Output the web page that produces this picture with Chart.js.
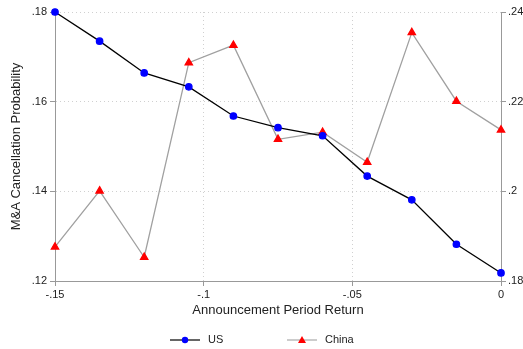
<!DOCTYPE html>
<html>
<head>
<meta charset="utf-8">
<script src="https://cdn.jsdelivr.net/npm/chart.js@4/dist/chart.umd.min.js"></script>
<style>
  html, body { margin: 0; padding: 0; background: #fff; }
  #wrap { width: 523px; height: 349px; }
</style>
</head>
<body>
<div id="wrap"><canvas id="chart" width="523" height="349"></canvas></div>
<script>
const returns = [-0.15, -0.135, -0.12, -0.105, -0.09, -0.075, -0.06, -0.045, -0.03, -0.015, 0];
const usProb = [0.180, 0.1735, 0.1664, 0.1633, 0.1568, 0.1542, 0.1524, 0.1434, 0.1381, 0.1282, 0.1218];
const chinaProb = [0.1876, 0.2001, 0.1853, 0.2287, 0.2326, 0.2116, 0.2132, 0.2065, 0.2354, 0.2201, 0.2137];
const seriesNames = ["US", "China"];

const font = "'Liberation Sans', Arial, sans-serif";
const txt = "#222";
const axisGray = "#999";

// strip the leading zero like Stata does: 0.16 -> .16, -0.1 -> -.1
function fmt(v) {
  let s = String(Math.round(v * 1000) / 1000);
  return s.replace(/^(-?)0\./, "$1.");
}

const legendPlugin = {
  id: "lineLegend",
  afterDraw(chart) {
    const ctx = chart.ctx;
    const items = [
      { name: seriesNames[0], line: "#333", mark: "circle", color: "#0000ff", x: 170 },
      { name: seriesNames[1], line: "#bbb", mark: "triangle", color: "#ff0000", x: 287 }
    ];
    const y = 340;
    ctx.save();
    items.forEach(it => {
      ctx.strokeStyle = it.line;
      ctx.lineWidth = 1.5;
      ctx.beginPath();
      ctx.moveTo(it.x, y);
      ctx.lineTo(it.x + 30, y);
      ctx.stroke();
      ctx.fillStyle = it.color;
      ctx.beginPath();
      if (it.mark === "circle") {
        ctx.arc(it.x + 15, y, 3.2, 0, Math.PI * 2);
      } else {
        ctx.moveTo(it.x + 15, y - 4);
        ctx.lineTo(it.x + 19, y + 3);
        ctx.lineTo(it.x + 11, y + 3);
        ctx.closePath();
      }
      ctx.fill();
      ctx.fillStyle = txt;
      ctx.font = "11px " + font;
      ctx.textBaseline = "middle";
      ctx.fillText(it.name, it.x + 38, y);
    });
    ctx.restore();
  }
};

new Chart(document.getElementById("chart"), {
  type: "line",
  data: {
    datasets: [
      {
        label: seriesNames[0],
        data: returns.map((r, i) => ({ x: r, y: usProb[i] })),
        yAxisID: "y",
        borderColor: "#000",
        borderWidth: 1.3,
        pointBackgroundColor: "#0000ff",
        pointBorderColor: "#0000ff",
        pointRadius: 3.2,
        pointStyle: "circle",
        tension: 0,
        clip: false
      },
      {
        label: seriesNames[1],
        data: returns.map((r, i) => ({ x: r, y: chinaProb[i] })),
        yAxisID: "y2",
        borderColor: "#a0a0a0",
        borderWidth: 1.3,
        pointBackgroundColor: "#ff0000",
        pointBorderColor: "#ff0000",
        pointRadius: 4.2,
        pointStyle: "triangle",
        tension: 0,
        clip: false
      }
    ]
  },
  options: {
    responsive: false,
    animation: false,
    layout: { padding: { top: 12, left: 0, right: 0, bottom: 0 } },
    plugins: { legend: { display: false }, tooltip: { enabled: false } },
    scales: {
      x: {
        type: "linear",
        min: -0.15,
        max: 0,
        afterBuildTicks(s) { s.ticks = [-0.15, -0.1, -0.05, 0].map(v => ({ value: v })); },
        afterFit(s) { s.height = 68; },
        ticks: { callback: v => fmt(v), color: txt, font: { family: font, size: 11 }, padding: 2, maxRotation: 0 },
        grid: { color: "#d0d0d0", tickColor: axisGray, tickLength: 5, tickBorderDash: [] },
        border: { color: axisGray, width: 1, dash: [1, 3] },
        title: { display: true, text: "Announcement Period Return", color: txt, font: { family: font, size: 13 }, padding: { top: 31, bottom: 31 } }
      },
      y: {
        position: "left",
        min: 0.12,
        max: 0.18,
        afterBuildTicks(s) { s.ticks = [0.12, 0.14, 0.16, 0.18].map(v => ({ value: v })); },
        afterFit(s) { s.width = 55; },
        ticks: { callback: v => fmt(v), color: txt, font: { family: font, size: 11 }, padding: 3 },
        grid: { color: "#d0d0d0", tickColor: axisGray, tickLength: 5, tickBorderDash: [] },
        border: { color: axisGray, width: 1, dash: [1, 3] },
        title: { display: true, text: "M&A Cancellation Probability", color: txt, font: { family: font, size: 13 }, padding: { top: 9, bottom: 9 } }
      },
      y2: {
        position: "right",
        min: 0.18,
        max: 0.24,
        afterBuildTicks(s) { s.ticks = [0.18, 0.2, 0.22, 0.24].map(v => ({ value: v })); },
        afterFit(s) { s.width = 22; },
        ticks: { callback: v => fmt(v), color: txt, font: { family: font, size: 11 }, padding: 2 },
        grid: { drawOnChartArea: false, tickColor: axisGray, tickLength: 5 },
        border: { color: axisGray, width: 1 }
      }
    }
  },
  plugins: [legendPlugin]
});
</script>
</body>
</html>
